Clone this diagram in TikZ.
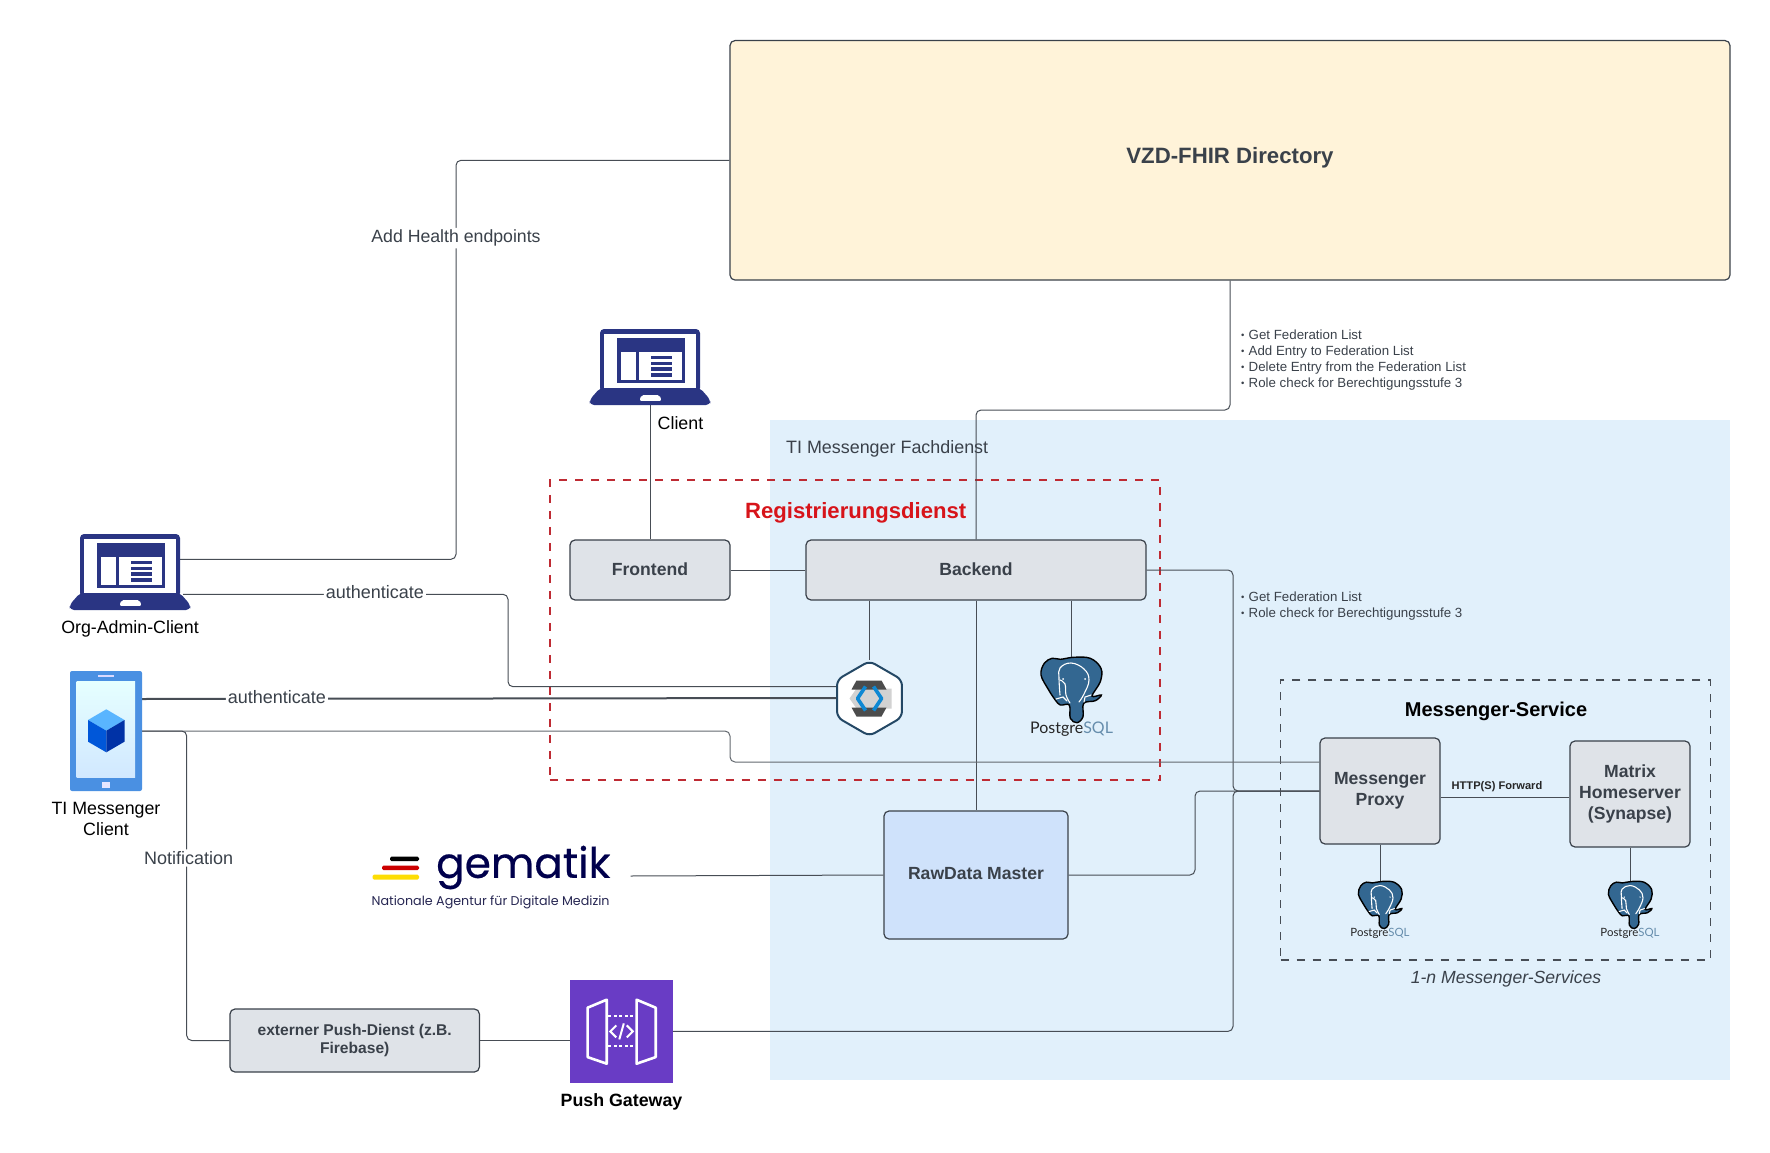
\documentclass[tikz,border=0pt]{standalone}
\usepackage{fontspec}
\setmainfont{Liberation Sans}
\newfontfamily\logofont{Poppins}
\newfontfamily\logoheavy{Poppins}[FakeBold=0.5]
\newfontfamily\pgfont{Lato}
\usetikzlibrary{positioning,shapes.geometric}
\definecolor{slate}{HTML}{3A414A}
\definecolor{wire}{HTML}{474D55}
\definecolor{boxgray}{HTML}{DFE3E8}
\definecolor{tiblue}{HTML}{E1F0FB}
\definecolor{vzdcream}{HTML}{FFF3D9}
\definecolor{rawblue}{HTML}{CFE2FB}
\definecolor{regred}{HTML}{BE2B33}
\definecolor{regtext}{HTML}{D7141A}
\definecolor{navy}{HTML}{2A3583}
\definecolor{phoneblue}{HTML}{4A90E2}
\definecolor{awspurple}{HTML}{693CC5}
\definecolor{pgblue}{HTML}{336791}
\newcommand{\fs}[1]{\fontsize{#1}{1.2\dimexpr #1pt\relax}\selectfont}
\newcommand{\tick}[1]{\makebox[7.5pt][l]{\raisebox{1pt}{\fontsize{9.5}{9.5}\selectfont\textbullet}}#1}
\newcommand{\pgname}{Postgre\textcolor{pgblue!75}{SQL}}

\tikzset{
  laptop/.pic={
    \fill [navy, rounded corners=4pt] (-50,-38) rectangle (50,25);
    \fill [navy, rounded corners=4pt] (-50,21) -- (50,21) -- (60.5,33) -- (60,38) -- (-60,38) -- (-60.5,33) -- cycle;
    \fill [white] (-46,-33) rectangle (46,21.3);
    \fill [navy] (-33.3,-28.7) rectangle (35,16.3);
    \fill [white] (-29.3,-15.3) rectangle (-14,13);
    \fill [white] (-10.7,-15.3) rectangle (31.7,13);
    \foreach \liney in {-11.3,-5.3,0.3,6.3}
    {
    \fill [navy] (1,\liney) rectangle (22.3,\liney+3.5);
    }
    \fill [white, rounded corners=2pt] (-8.5,28) -- (9.5,28) -- (11.7,33.8) -- (-10.7,33.8) -- cycle;
  },
  handset/.pic={
    \fill [phoneblue, rounded corners=2pt] (-36,-60) rectangle (36,60);
    \shade [top color=white!90!cyan, bottom color=blue!50!cyan!18] (-29.3,-50) rectangle (29,46.3);
    \fill [white!85!blue] (-7.7,-56) rectangle (8,-53.7);
    \fill [white!90!blue] (-4,51) rectangle (4,57.3);
    \fill [blue!45!cyan!65!white] (0.3,-21.7) -- (18.5,-11) -- (0.3,-0.3) -- (-18,-11) -- cycle;
    \fill [blue!60!cyan!85!black] (-18,-11) -- (0.3,-0.3) -- (0.3,21.3) -- (-18,10.7) -- cycle;
    \fill [blue!70!cyan!65!black] (18.5,-11) -- (0.3,-0.3) -- (0.3,21.3) -- (18.5,10.7) -- cycle;
  },
  apigate/.pic={
    \draw [white, line width=2.6pt, line join=round] (-33.7,-23.7) -- (-14.6,-31.7) -- (-14.6,32.3) -- (-33.7,25.7) -- cycle;
    \draw [white, line width=2.6pt, line join=round] (34.4,-23.7) -- (15.3,-31.7) -- (15.3,32.3) -- (34.4,25.7) -- cycle;
    \draw [white, line width=2pt, dash pattern=on 3pt off 2.5pt] (-13,-15) -- (14,-15);
    \draw [white, line width=2pt, dash pattern=on 3pt off 2.5pt] (-13,15) -- (14,15);
    \draw [white, line width=2pt] (-5,-6) -- (-11,0) -- (-5,6);
    \draw [white, line width=2pt] (5.5,-6) -- (11.5,0) -- (5.5,6);
    \draw [white, line width=2pt] (2.5,-8) -- (-2,8);
  },
  keylogo/.pic={
    \fill [gray!35] (-20,0) -- (-13,-10) -- (22,-10) -- (22,10) -- (-13,10) -- cycle;
    \fill [black!70] (-13,-18) -- (12,-18) -- (17,-9) -- (-18,-9) -- cycle;
    \fill [black!70] (-18,9) -- (17,9) -- (12,18) -- (-13,18) -- cycle;
    \draw [cyan!70!blue, line width=3.6pt, line join=round] (-4,-12) -- (-12,0) -- (-4,12);
    \draw [cyan!70!blue, line width=3.6pt, line join=round] (4,-12) -- (12,0) -- (4,12);
  },
  elephant/.pic={
    \draw [fill=pgblue, draw=black, line width=1.4pt] plot [smooth cycle, tension=.6] coordinates {
      (-10.7,-30.7) (2.7,-32.7) (19.3,-31.7) (30,-21.7) (29.3,-8.3) (21,6) (30.3,5) (24.3,10.7)
      (12.7,13.3) (12,26.7) (6,32.7) (-0.7,28.3) (-1.7,15) (-10.7,15) (-15.7,10) (-22.3,0)
      (-30,-15) (-26.7,-26.7) (-19,-31.7)};
    \draw [white, line width=1.1pt, line cap=round] plot [smooth, tension=.7] coordinates {
      (-11,5) (-12,-12) (-11,-22) (0,-27) (13,-21) (18,-10) (13,4) (8,12)};
    \draw [white, line width=1.1pt, line cap=round] plot [smooth, tension=.7] coordinates {
      (-11,-10) (-6,-6) (-5,5) (-1,13)};
    \draw [white, line width=1.1pt, line cap=round] (-15,9) -- (-8,7) -- (-4,11);
    \fill [white] (-8,-11) circle (1pt) (14,-11) circle (1pt);
    \draw [white, line width=1.1pt, line cap=round] (20,5) -- (14,7) -- (13,12);
  }
}

\begin{document}
\begin{tikzpicture}[x=1pt,y=-1pt,node distance=0pt]
\tikzstyle{service} = [rectangle, rounded corners=5pt, draw=slate, fill=boxgray, line width=1.2pt, text=slate, align=center, inner sep=0pt, font=\bfseries\fs{17.6}]
\tikzstyle{iconbox} = [rectangle, inner sep=0pt]
\tikzstyle{caption} = [inner sep=0pt, text=black, align=center, font=\fs{17.8}]
\tikzstyle{wirelabel} = [inner sep=2pt, fill=white, text=slate, font=\fs{18}]
\tikzstyle{note} = [inner sep=0pt, anchor=north west, align=left, text=slate, font=\fs{13.3}]
\tikzstyle{dbname} = [inner sep=0pt, text=black!85, font=\pgfont]
\tikzstyle{link} = [draw=wire, line width=1pt, rounded corners=5pt]

\useasboundingbox (0,0) rectangle (1770,1153);

\fill [tiblue] (769.5,420) rectangle (1730,1080);
\node (fachdienst) [anchor=west, inner sep=0pt, text=slate, font=\fs{17.9}] at (786,448.7) {TI Messenger Fachdienst};

\node (regbox) [rectangle, draw=regred, line width=2pt, dash pattern=on 8pt off 8pt, minimum width=610.6pt, minimum height=300pt, inner sep=0pt] at (855,630) {};
\node (regtitle) [inner sep=0pt, text=regtext, font=\bfseries\fs{22.1}] at (855.7,512.7) {Registrierungsdienst};

\node (msgbox) [rectangle, draw=wire, line width=1.5pt, dash pattern=on 8pt off 8pt, minimum width=429.8pt, minimum height=280pt, inner sep=0pt] at (1495.6,820) {};
\node (msgtitle) [inner sep=0pt, text=black, font=\bfseries\fs{20}] at (1496,711) {Messenger-Service};
\node (msgcount) [inner sep=0pt, text=slate, font=\itshape\fs{17.6}] at (1506,978.5) {1-n Messenger-Services};

\node (vzd) [service, minimum width=1000pt, minimum height=239.5pt, fill=vzdcream, text depth=9.2pt, font=\bfseries\fs{22.2}] at (1230,160.3) {VZD-FHIR Directory};

\node (frontend) [service, minimum width=160pt, minimum height=60pt, text depth=2.4pt] at (650,570) {Frontend};
\node (backend) [service, right of=frontend, xshift=326pt, minimum width=340pt, minimum height=60pt, text depth=2.4pt] {Backend};
\node (rawdata) [service, below of=backend, yshift=-305pt, minimum width=184pt, minimum height=128pt, fill=rawblue, text depth=2.4pt] {RawData Master};
\node (keycloak) [regular polygon, regular polygon sides=6, shape border rotate=30, minimum size=75pt, inner sep=0pt, draw=pgblue!70!black, fill=white, line width=2pt, rounded corners=6pt] at (869.5,698.5) {};
\node (pgreg) [iconbox, minimum width=62pt, minimum height=66pt] at (1071,690) {};

\node (proxy) [service, minimum width=120pt, minimum height=106pt] at (1380,791) {Messenger\\Proxy};
\node (matrix) [service, right of=proxy, xshift=250pt, yshift=-3pt, minimum width=120pt, minimum height=106pt] {Matrix\\Homeserver\\(Synapse)};
\node (pgproxy) [iconbox, minimum width=45pt, minimum height=47pt] at (1380,905) {};
\node (pgmatrix) [iconbox, right of=pgproxy, xshift=250pt, minimum width=45pt, minimum height=47pt] {};

\node (client) [iconbox, minimum width=120pt, minimum height=76pt] at (650,367) {};
\node (orgadmin) [iconbox, minimum width=120pt, minimum height=76pt] at (130,572) {};
\node (phone) [iconbox, minimum width=72pt, minimum height=120pt] at (106,731) {};
\node (gematik) [iconbox, minimum width=259pt, minimum height=72pt] at (501,876) {};
\node (gateway) [rectangle, fill=awspurple, minimum width=102.6pt, minimum height=102.7pt, inner sep=0pt] at (621.3,1031.4) {};
\node (pushdienst) [service, minimum width=249.4pt, minimum height=63pt, font=\bfseries\fs{15.6}] at (354.7,1040.5) {externer Push-Dienst (z.B.\\Firebase)};

\draw [link] (client) -- (frontend);
\draw [link] (frontend) -- (backend);
\draw [link] (backend.north) -- (976,410) -- (1230,410) -- (vzd.south);
\draw [link] (keycloak.north |- backend.south) -- (keycloak.north);
\draw [link] (pgreg.north |- backend.south) -- (pgreg.north);
\draw [link] (backend.south) -- (rawdata.north);
\draw [link] (backend.east) -- (1233,570) -- (1233,791) -- (proxy.west);
\draw [link] (rawdata.east) -- (1195,875) -- (1195,791) -- (proxy.west);
\draw [link] (gateway.east) -- (1233,1031.4) -- (1233,791) -- (proxy.west);
\draw [link] ([yshift=-6.5pt]proxy.east) -- node [above=5.5pt, xshift=-8pt, inner sep=0pt, text=black!85, font=\bfseries\fs{11.1}] {HTTP(S) Forward} ([yshift=-3.5pt]matrix.west);
\draw [link] (proxy.south) -- (pgproxy.north);
\draw [link] (matrix.south) -- (pgmatrix.north);
\draw [link] (gematik.east) -- (rawdata.west);
\draw [link] (pushdienst.east) -- (gateway.west |- pushdienst.east);

\draw [link] ([xshift=-10pt,yshift=12.7pt]orgadmin.east) -- (456,559.3) -- node [wirelabel, pos=.81, yshift=-2pt, font=\fs{17.7}] {Add Health endpoints} (456,160.3) -- (vzd.west);
\draw [link] ([xshift=-7pt,yshift=-22.3pt]orgadmin.east) -- node [wirelabel, pos=.59, yshift=2pt] {authenticate} (508,594.3) -- (508,686.7) -- ([yshift=11.8pt]keycloak.west);
\draw [link, line width=2pt] ([yshift=32pt]phone.east) -- node [wirelabel, pos=.194, yshift=2pt] {authenticate} ([yshift=.5pt]keycloak.west);
\draw [link, draw=wire!85] (phone.east) -- (730,731) -- (730,762) -- ([yshift=29pt]proxy.west);
\draw [link] (phone.east) -- (186.7,731) -- node [wirelabel, pos=.41, xshift=2pt] {Notification} (186.7,1040.5) -- (pushdienst.west);

\pic at (client) {laptop};
\pic at (orgadmin) {laptop};
\pic at (phone) {handset};
\pic at (gateway) {apigate};
\pic at (keycloak) {keylogo};
\pic at (pgreg) {elephant};
\pic [scale=.72] at (pgproxy) {elephant};
\pic [scale=.72] at (pgmatrix) {elephant};

\node (clientname) [caption, anchor=west] at (657.5,423) {Client};
\node (adminname) [caption] at (130,629) {Org-Admin-Client};
\node (phonename) [caption] at (106,819) {TI Messenger\\Client};
\node (gatewayname) [caption, font=\bfseries\fs{17.8}] at (621.5,1101.7) {Push Gateway};
\node (pgregname) [dbname, font=\pgfont\fs{16}] at (1071.5,729) {\pgname};
\node (pgproxyname) [dbname, font=\pgfont\fs{11.4}] at (1380,933) {\pgname};
\node (pgmatrixname) [dbname, font=\pgfont\fs{11.4}] at (1630,933) {\pgname};

\node (fedlist) [note] at (1241,329.5) {\tick{Get Federation List}\\\tick{Add Entry to Federation List}\\\tick{Delete Entry from the Federation List}\\\tick{Role check for Berechtigungsstufe 3}};
\node (rolelist) [note] at (1241,592) {\tick{Get Federation List}\\\tick{Role check for Berechtigungsstufe 3}};

\fill [yellow!80!orange, rounded corners=1.5pt] (372.5,874.5) -- (419,874.5) -- (419,879.5) -- (372.5,879.5) -- cycle;
\fill [red!80!black, rounded corners=1.5pt] (382,865.5) -- (419,865.5) -- (419,870) -- (382,870) -- cycle;
\fill [black, rounded corners=1.5pt] (390,856.5) -- (419,856.5) -- (419,861) -- (390,861) -- cycle;
\node (gematikname) [anchor=west, inner sep=0pt, text=blue!30!black, font=\logoheavy\fs{42.2}] at (436,867.5) {gematik};
\node (gematiksub) [anchor=west, inner sep=0pt, text=blue!20!black!85, font=\logofont\fs{12.7}] at (371.5,902) {Nationale Agentur für Digitale Medizin};

\end{tikzpicture}
\end{document}
